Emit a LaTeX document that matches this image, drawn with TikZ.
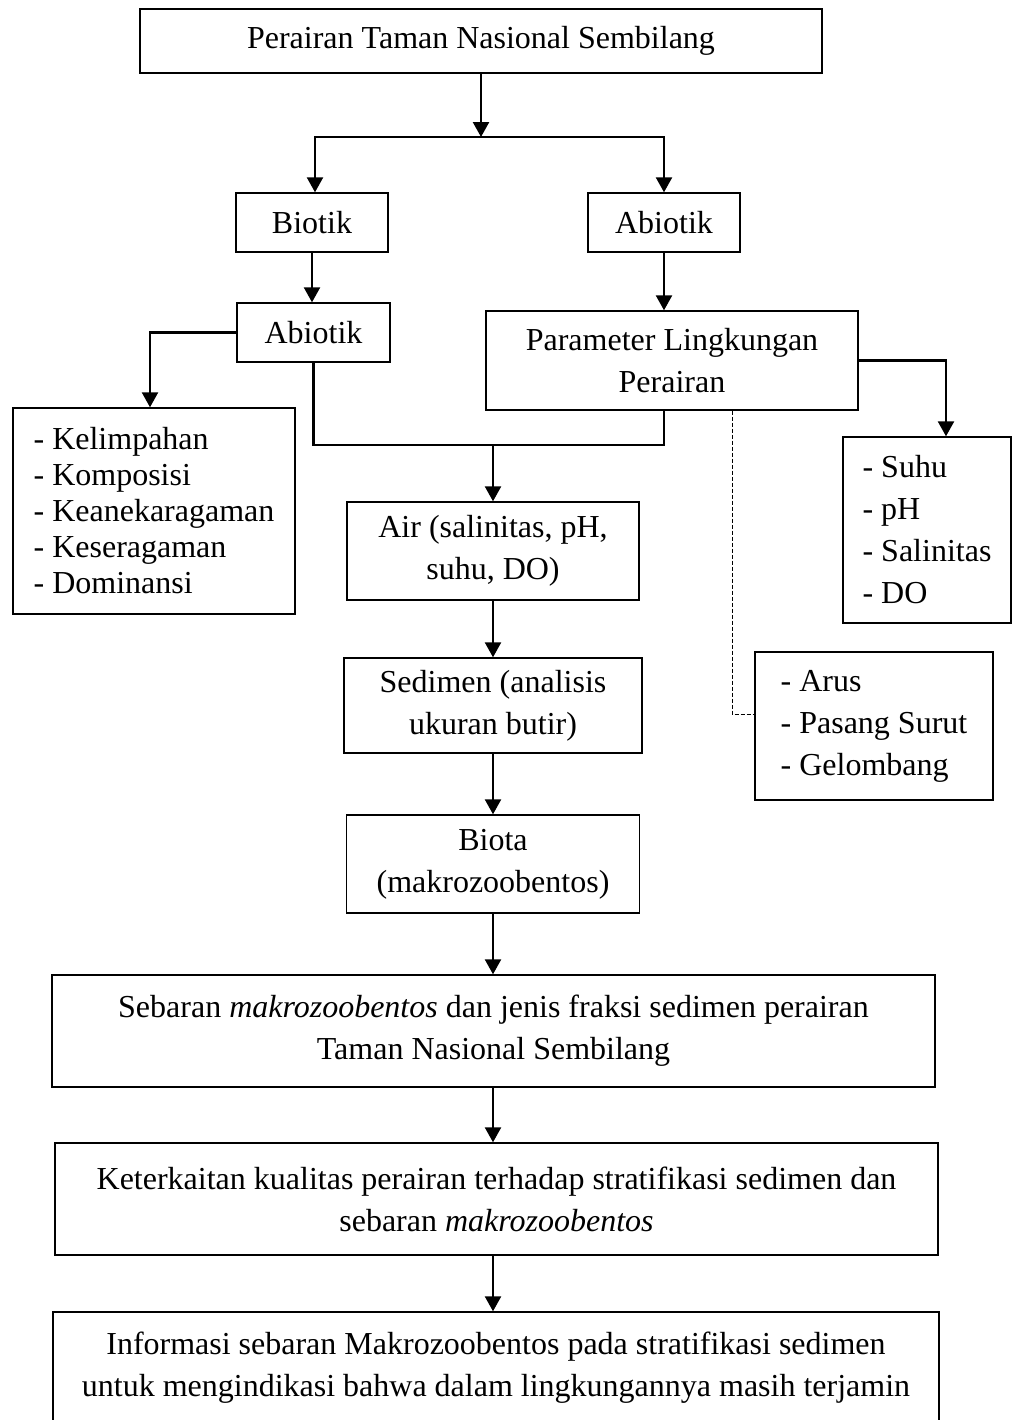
\documentclass[tikz,border=0pt]{standalone}
\usepackage{fontspec}
\setmainfont{Liberation Serif}
\usetikzlibrary{arrows.meta}
\tikzset{
  box/.style={draw, line width=0.7pt, align=center, inner sep=0pt, font=\fontsize{16}{21}\selectfont},
  listbox/.style={box, align=left},
  link/.style={line width=1.2pt},
}
\begin{document}
\begin{tikzpicture}[x=0.5pt, y=-0.5pt, >={Triangle[length=7.5pt,width=8pt]}]
    \useasboundingbox (0,0) rectangle (1013,1420);

    % Top
    \node[box, minimum width=341pt, minimum height=32pt] (top) at (481,41) {Perairan Taman Nasional Sembilang};
    \coordinate (split) at (481,137);

    % Biotik / Abiotik
    \node[box, minimum width=76pt, minimum height=29.5pt] (biotik) at (312,222.5) {Biotik};
    \node[box, minimum width=76pt, minimum height=29.5pt] (abiotik) at (664,222.5) {Abiotik};
    \node[box, minimum width=76.5pt, minimum height=29.5pt] (abiotikb) at (313.5,332.5) {Abiotik};
    \node[box, minimum width=186pt, minimum height=49.5pt] (param) at (672,360.5) {Parameter Lingkungan\\Perairan};

    % Lists
    \node[listbox, minimum width=141pt, minimum height=103pt, font=\fontsize{16}{18}\selectfont] (biolist) at (154,511)
        {- Kelimpahan\\- Komposisi\\- Keanekaragaman\\- Keseragaman\\- Dominansi};
    \node[listbox, minimum width=84pt, minimum height=93pt] (waterlist) at (927,530)
        {- Suhu\\- pH\\- Salinitas\\- DO};
    \node[listbox, minimum width=119pt, minimum height=74pt] (hydrolist) at (874,726)
        {- Arus\\- Pasang Surut\\- Gelombang};

    % Middle column
    \coordinate (merge) at (493,445);
    \node[box, minimum width=146pt, minimum height=49pt] (air) at (493,551) {Air (salinitas, pH,\\suhu, DO)};
    \node[box, minimum width=149pt, minimum height=47.5pt] (sedimen) at (493,705.5) {Sedimen (analisis\\ukuran butir)};
    \node[box, minimum width=146.5pt, minimum height=49pt] (biota) at (493,864) {Biota\\(makrozoobentos)};

    % Bottom
    \node[box, minimum width=441.5pt, minimum height=56pt] (sebaran) at (493.5,1031)
        {Sebaran \textit{makrozoobentos} dan jenis fraksi sedimen perairan\\Taman Nasional Sembilang};
    \node[box, minimum width=441.5pt, minimum height=56pt] (kaitan) at (496.5,1199)
        {Keterkaitan kualitas perairan terhadap stratifikasi sedimen dan\\sebaran \textit{makrozoobentos}};
    \node[box, minimum width=443pt, minimum height=56pt] (info) at (496,1368)
        {Informasi sebaran Makrozoobentos pada stratifikasi sedimen\\untuk mengindikasi bahwa dalam lingkungannya masih terjamin};

    % Arrows
    \draw[link,->] (top) -- (split);
    \draw[link,->] (split) -| ([xshift=1.5pt]biotik.north);
    \draw[link,->] (split) -| (abiotik);
    \draw[link,->] (biotik) -- (biotik |- abiotikb.north);
    \draw[link,->] (abiotik) -- (abiotik |- param.north);
    \draw[link,->] (abiotikb.west) -| ([xshift=-2pt]biolist.north);
    \draw[link,->] (param.east) -| ([xshift=9.5pt]waterlist.north);
    \draw[line width=0.5pt, dash pattern=on 2pt off 1pt] ([xshift=30pt]param.south) |- ([yshift=6pt]hydrolist.west);
    \draw[link] (abiotikb) |- (merge) -| (abiotik |- param.south);
    \draw[link,->] (merge) -- (air);
    \draw[link,->] (air) -- (sedimen);
    \draw[link,->] (sedimen) -- (biota);
    \draw[link,->] (biota) -- (biota |- sebaran.north);
    \draw[link,->] (biota |- sebaran.south) -- (biota |- kaitan.north);
    \draw[link,->] (biota |- kaitan.south) -- (biota |- info.north);
\end{tikzpicture}
\end{document}
